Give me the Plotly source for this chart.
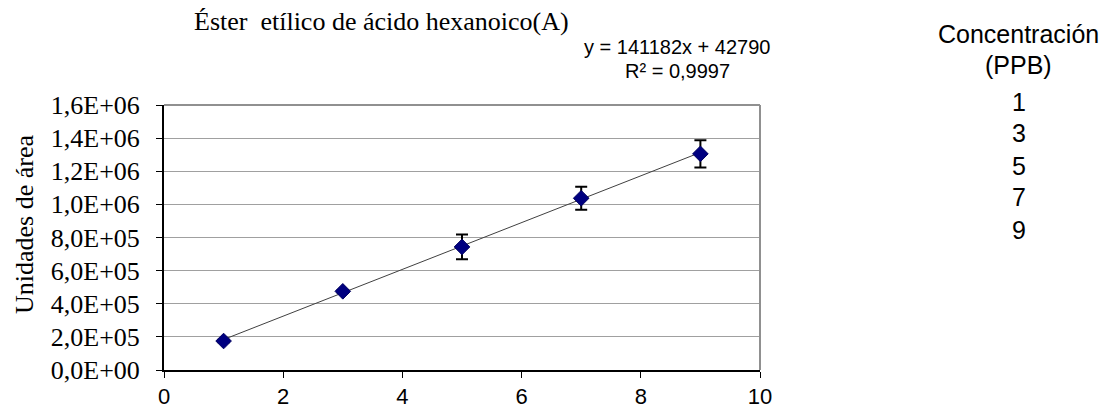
import plotly.graph_objects as go

conc = [1, 3, 5, 7, 9]
area = [175000, 475000, 743000, 1037000, 1305000]
err = [8000, 8000, 75000, 70000, 82000]
slope = 141182
intercept = 42790
ytick_vals = [0, 200000, 400000, 600000, 800000, 1000000, 1200000, 1400000, 1600000]
ytick_text = ["0,0E+00", "2,0E+05", "4,0E+05", "6,0E+05", "8,0E+05",
              "1,0E+06", "1,2E+06", "1,4E+06", "1,6E+06"]
xtick_vals = [0, 2, 4, 6, 8, 10]
title_text = "Éster  etílico de ácido hexanoico(A)"
y_title = "Unidades de área"
eq_text = "y = 141182x + 42790"
r2_text = "R² = 0,9997"
legend_title = ["Concentración", "(PPB)"]

serif = "Liberation Serif"
sans = "Liberation Sans"

# page body has an 8px margin; plot area in the page spans x 164..760, y 105..370
OFF = 8
W, H = 1112 - 2 * OFF, 419 - 2 * OFF
L, R, T, B = 164, 760, 105, 370

fig = go.Figure()
trend_x = [conc[0], conc[-1]]
trend_y = [slope * x + intercept for x in trend_x]
fig.add_trace(go.Scatter(x=trend_x, y=trend_y, mode="lines",
                         line=dict(color="#404040", width=1), showlegend=False, hoverinfo="skip"))
fig.add_trace(go.Scatter(x=conc, y=area, mode="markers",
                         marker=dict(symbol="diamond", size=12, color="#000080",
                                     line=dict(color="#000060", width=1)),
                         error_y=dict(type="data", array=err, visible=True, color="black",
                                      thickness=2, width=6),
                         showlegend=False))

fig.update_layout(
    width=W, height=H,
    margin=dict(l=L - OFF, r=W - (R - OFF), t=T - OFF, b=H - (B - OFF)),
    paper_bgcolor="white", plot_bgcolor="white",
    xaxis=dict(range=[0, 10], tickvals=xtick_vals, showgrid=False, automargin=False,
               showline=True, linecolor="black", linewidth=2, mirror=False,
               ticks="outside", ticklen=6, tickcolor="black", ticklabelstandoff=0,
               tickfont=dict(family=sans, size=22, color="black"), zeroline=False),
    yaxis=dict(range=[0, 1600000], tickvals=ytick_vals, ticktext=ytick_text, automargin=False,
               showgrid=True, gridcolor="#a0a0a0", gridwidth=1,
               showline=True, linecolor="black", linewidth=2,
               ticks="outside", ticklen=6, tickcolor="black", ticklabelstandoff=11,
               tickfont=dict(family=serif, size=26, color="black"), zeroline=False),
    shapes=[
        dict(type="line", xref="paper", yref="paper", x0=0, x1=1, y0=1, y1=1,
             line=dict(color="#909090", width=2)),
        dict(type="line", xref="paper", yref="paper", x0=1, x1=1, y0=0, y1=1,
             line=dict(color="#909090", width=2)),
    ],
)


def px_x(p):
    return (p - L) / (R - L)


def px_y(p):
    return (B - p) / (B - T)


annots = [
    dict(text=title_text, x=px_x(192), y=px_y(21), xanchor="left", yanchor="middle",
         font=dict(family=serif, size=26, color="black")),
    dict(text=y_title, x=px_x(24), y=px_y(225), xanchor="center", yanchor="middle",
         textangle=-90, font=dict(family=serif, size=26, color="black")),
    dict(text=eq_text, x=px_x(677), y=px_y(47), xanchor="center", yanchor="middle",
         font=dict(family=sans, size=20, color="black")),
    dict(text=r2_text, x=px_x(677), y=px_y(71), xanchor="center", yanchor="middle",
         font=dict(family=sans, size=20, color="black")),
    dict(text=legend_title[0], x=px_x(1019), y=px_y(34), xanchor="center", yanchor="middle",
         font=dict(family=sans, size=25, color="black")),
    dict(text=legend_title[1], x=px_x(1019), y=px_y(65), xanchor="center", yanchor="middle",
         font=dict(family=sans, size=25, color="black")),
]
legend_y = [102, 133, 166, 197, 230]
for c, yy in zip(conc, legend_y):
    annots.append(dict(text=str(c), x=px_x(1019), y=px_y(yy), xanchor="center", yanchor="middle",
                       font=dict(family=sans, size=25, color="black")))
for a in annots:
    a.update(xref="paper", yref="paper", showarrow=False)
fig.update_layout(annotations=annots)

fig.write_html("out.html")
